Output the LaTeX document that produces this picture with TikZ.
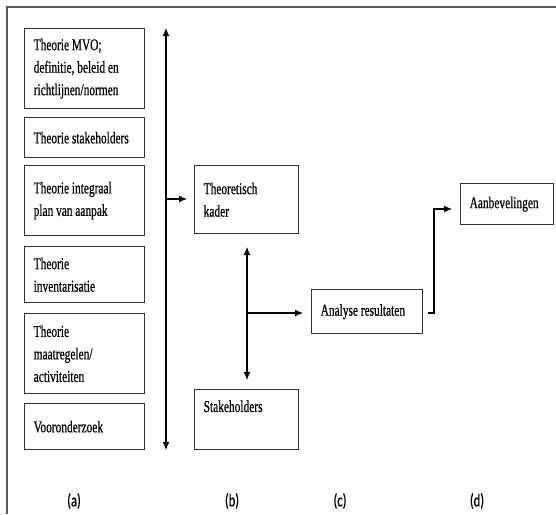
\documentclass[tikz,border=0pt]{standalone}
\usepackage{fontspec}
\setmainfont[FakeStretch=0.69, FakeBold=0.6]{Liberation Serif}
\newfontfamily\labelfont[FakeStretch=0.7, FakeBold=0.6]{Carlito}
\usetikzlibrary{arrows.meta}
\definecolor{framegray}{HTML}{5A5A5A}
\definecolor{boxline}{HTML}{333333}
\tikzset{
  x=1pt, y=-1pt,
  box/.style={draw=boxline, line width=1.4pt, rectangle, anchor=north west,
    align=left, inner xsep=9pt, inner ysep=0pt,
    font=\fontsize{16.5}{22.5}\selectfont,
    execute at begin node={\spaceskip=2.8pt plus 0.5pt\relax}},
  flow/.style={draw=black, line width=1.1pt, -{Latex[length=8pt,width=7pt]}},
  twoway/.style={draw=black, line width=1.1pt, {Latex[length=8pt,width=7pt]}-{Latex[length=8pt,width=7pt]}},
  colabel/.style={font=\labelfont\fontsize{18}{20}\selectfont, inner sep=0pt}
}
\newcommand{\boxat}[6]{% name, x, y, width, height, text
  \node[box, text width=#4pt-18pt, minimum height=#5pt] (#1) at (#2,#3) {#6};}
\begin{document}
\begin{tikzpicture}
\useasboundingbox (0,0) rectangle (556,514);
% outer frame (top and left edges)
\draw[framegray, line width=1.8pt] (7,514) -- (7,7) -- (556,7);

% column (a): theory boxes
\boxat{mvo}{24}{28}{120}{80}{Theorie MVO;\\definitie, beleid en\\richtlijnen/normen}
\boxat{sth}{24}{117}{120}{40}{Theorie stakeholders}
\boxat{ipa}{24}{165}{120}{70}{Theorie integraal\\plan van aanpak}
\boxat{inv}{24}{246}{120}{56}{Theorie\\inventarisatie}
\boxat{mra}{24}{313}{120}{80}{Theorie\\maatregelen/\\activiteiten}
\boxat{voo}{24}{403}{120}{46}{Vooronderzoek}

% column (b)
\boxat{tk}{194}{165}{104}{68}{Theoretisch\\kader}
\node[box, text width=86pt, minimum height=60pt, text depth=27pt] (sh) at (194,389) {Stakeholders};

% column (c) and (d)
\boxat{ar}{311}{289}{111}{44}{Analyse resultaten}
\boxat{ab}{460}{183}{93}{41}{Aanbevelingen}

% connectors
\coordinate (spineTop) at (166,28);
\coordinate (spineBot) at (166,450);
\coordinate (spineMid) at (166,199);
\draw[twoway] (spineTop) -- (spineBot);
\draw[flow, shorten >=7pt] (spineMid) -- (spineMid -| tk.west);

\coordinate (midTop) at (247,247);
\coordinate (midBot) at (247,380);
\coordinate (midJoin) at (247,313);
\draw[twoway] (midTop) -- (midBot);
\draw[flow, shorten >=8pt] (midJoin) -- (midJoin -| ar.west);

\coordinate (arOut) at (428,313);
\coordinate (bend) at (434,209);
\draw[flow, shorten >=8pt] (arOut) -- (arOut -| bend) -- (bend) -- (bend -| ab.west);

% column labels
\node[colabel] (la) at (74,501) {(a)};
\node[colabel] (lb) at (232,501) {(b)};
\node[colabel] (lc) at (340,501) {(c)};
\node[colabel] (ld) at (477,501) {(d)};
\end{tikzpicture}
\end{document}
